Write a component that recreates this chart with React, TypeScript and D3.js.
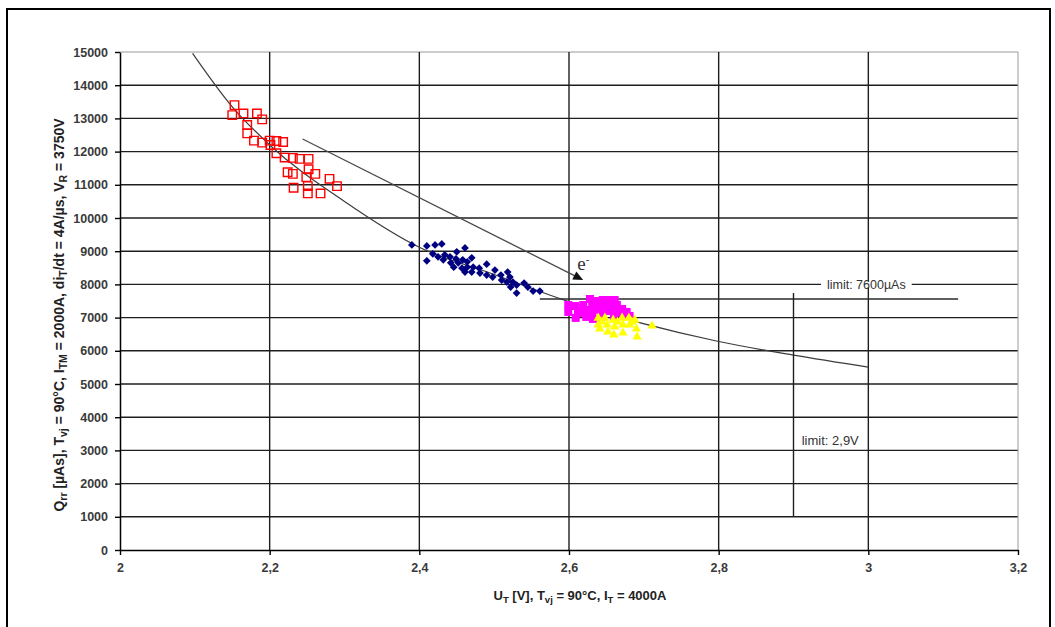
import React, { useEffect, useRef } from "react";
import * as d3 from "d3";

// axis ticks
const xTicks = [2, 2.2, 2.4, 2.6, 2.8, 3, 3.2];
const xTickLabels = ["2", "2,2", "2,4", "2,6", "2,8", "3", "3,2"];
const yTicks = [0, 1000, 2000, 3000, 4000, 5000, 6000, 7000, 8000, 9000, 10000, 11000, 12000, 13000, 14000, 15000];

// measured devices: [U_T (V), Q_rr (µAs)]
const redPoints: [number, number][] = [
  [2.153, 13400], [2.150, 13100], [2.165, 13150], [2.183, 13150], [2.190, 12970],
  [2.170, 12800], [2.170, 12550], [2.179, 12330], [2.190, 12270], [2.200, 12330],
  [2.209, 12320], [2.218, 12290], [2.201, 12200], [2.209, 11950], [2.220, 11820],
  [2.231, 11810], [2.240, 11780], [2.252, 11780], [2.252, 11470], [2.224, 11380],
  [2.231, 11330], [2.261, 11330], [2.249, 11230], [2.280, 11180], [2.290, 10960],
  [2.232, 10910], [2.251, 10960], [2.251, 10740], [2.268, 10740],
];

const bluePoints: [number, number][] = [
  [2.390, 9190], [2.410, 9160], [2.421, 9190], [2.430, 9220], [2.410, 8710],
  [2.418, 8920], [2.425, 8830], [2.434, 8890], [2.441, 8830], [2.450, 8980],
  [2.461, 9100], [2.432, 8740], [2.442, 8650], [2.449, 8770], [2.452, 8650],
  [2.458, 8740], [2.464, 8680], [2.470, 8800], [2.446, 8520], [2.457, 8490],
  [2.464, 8520], [2.472, 8520], [2.461, 8370], [2.470, 8370], [2.480, 8490],
  [2.490, 8610], [2.481, 8340], [2.490, 8280], [2.501, 8430], [2.498, 8220],
  [2.509, 8280], [2.510, 8130], [2.518, 8370], [2.521, 8220], [2.517, 8070],
  [2.525, 8070], [2.522, 7920], [2.530, 7980], [2.540, 8040], [2.530, 7740],
  [2.545, 7920], [2.552, 7800], [2.561, 7800],
];

const magentaPoints: [number, number][] = [
  [2.599, 7380], [2.599, 7170], [2.608, 7350], [2.612, 7200], [2.609, 6990],
  [2.619, 7380], [2.623, 7230], [2.628, 7560], [2.631, 7350], [2.631, 7140],
  [2.632, 6960], [2.639, 7410], [2.641, 7230], [2.643, 7020], [2.649, 7410],
  [2.651, 7200], [2.655, 7530], [2.657, 7290], [2.660, 7050], [2.664, 7380],
  [2.667, 7170], [2.671, 7260], [2.672, 7050], [2.677, 7170], [2.681, 7050],
  [2.623, 7020], [2.615, 7140], [2.636, 7500], [2.645, 7530], [2.661, 7530],
];

const yellowPoints: [number, number][] = [
  [2.639, 6990], [2.648, 6990], [2.659, 6930], [2.671, 6990], [2.680, 6990],
  [2.688, 6930], [2.639, 6780], [2.651, 6780], [2.661, 6720], [2.672, 6780],
  [2.681, 6780], [2.641, 6660], [2.652, 6570], [2.660, 6480], [2.672, 6540],
  [2.691, 6420], [2.711, 6750], [2.644, 6870], [2.665, 6870], [2.684, 6870],
  [2.690, 6660],
];

// trend line
const fitU = [2.097, 2.15, 2.2, 2.3, 2.4, 2.5, 2.6, 2.8, 2.9, 3.0];
const fitQ = [14960, 13350, 12200, 10500, 9120, 8300, 7480, 6280, 5870, 5510];

// "e-" arrow
const arrowFrom: [number, number] = [2.244, 12380];
const arrowTo: [number, number] = [2.619, 8130];

// limits
const limitQ = 7560;
const limitQRange: [number, number] = [2.561, 3.12];
const limitU = 2.9;
const limitURange: [number, number] = [1000, 7740];

const FONT = "'Liberation Sans', Arial, sans-serif";

type Seg = { t: string; sub?: boolean };
const yTitle: Seg[] = [
  { t: "Q" }, { t: "rr", sub: true }, { t: " [µAs], T" }, { t: "vj", sub: true },
  { t: " = 90°C, I" }, { t: "TM", sub: true }, { t: " = 2000A, di" }, { t: "T", sub: true },
  { t: "/dt = 4A/µs, V" }, { t: "R", sub: true }, { t: " = 3750V" },
];
const xTitle: Seg[] = [
  { t: "U" }, { t: "T", sub: true }, { t: " [V], T" }, { t: "vj", sub: true },
  { t: " = 90°C, I" }, { t: "T", sub: true }, { t: " = 4000A" },
];

function writeSegs(text: d3.Selection<SVGTextElement, unknown, null, undefined>, segs: Seg[], subSize: string) {
  let shifted = false;
  segs.forEach((s) => {
    const ts = text.append("tspan").text(s.t);
    if (s.sub && !shifted) {
      ts.attr("dy", 3).attr("font-size", subSize);
      shifted = true;
    } else if (s.sub) {
      ts.attr("font-size", subSize);
    } else if (shifted) {
      ts.attr("dy", -3);
      shifted = false;
    }
  });
}

const App = () => {
  const svgRef = useRef<SVGSVGElement>(null);

  useEffect(() => {
    const width = 1055, height = 627;
    const left = 120, right = 1018, top = 52, bottom = 550;

    const svg = d3.select(svgRef.current!);
    svg.selectAll("*").remove();
    svg.attr("width", width).attr("height", height).style("background", "#fff");

    const x = d3.scaleLinear().domain([2, 3.2]).range([left, right]);
    const y = d3.scaleLinear().domain([0, 15000]).range([bottom, top]);

    // outer frame
    svg.append("rect")
      .attr("x", 7).attr("y", 9).attr("width", 1043).attr("height", 700)
      .attr("fill", "none").attr("stroke", "#000").attr("stroke-width", 2);

    // grid
    svg.append("g").selectAll("line")
      .data(yTicks.slice(1))
      .enter().append("line")
      .attr("x1", left).attr("x2", right)
      .attr("y1", d => y(d)).attr("y2", d => y(d))
      .attr("stroke", d => (d === 15000 ? "#9a9a9a" : "#1e1e1e"))
      .attr("stroke-width", d => (d === 15000 ? 1 : 1.4));

    svg.append("g").selectAll("line")
      .data(xTicks.slice(1))
      .enter().append("line")
      .attr("y1", top).attr("y2", bottom)
      .attr("x1", d => x(d)).attr("x2", d => x(d))
      .attr("stroke", d => (d === 3.2 ? "#9a9a9a" : "#1e1e1e"))
      .attr("stroke-width", d => (d === 3.2 ? 1 : 1.4));

    // axes
    const yAxis = svg.append("g")
      .attr("transform", `translate(${left},0)`)
      .call(d3.axisLeft(y).tickValues(yTicks).tickSize(5).tickSizeOuter(0).tickPadding(7)
        .tickFormat(d => String(d)));
    const xAxis = svg.append("g")
      .attr("transform", `translate(0,${bottom})`)
      .call(d3.axisBottom(x).tickValues(xTicks).tickSize(5).tickSizeOuter(0).tickPadding(8)
        .tickFormat((_d, i) => xTickLabels[i]));
    [yAxis, xAxis].forEach(a => {
      a.select(".domain").attr("stroke", "#000").attr("stroke-width", 1.5);
      a.selectAll(".tick line").attr("stroke", "#000").attr("stroke-width", 1.4);
      a.selectAll(".tick text")
        .attr("fill", "#3a3a3a")
        .style("font-family", FONT)
        .style("font-size", "12.5px")
        .style("font-weight", "bold");
    });

    // trend line
    const fit = fitU.map((u, i) => [u, fitQ[i]] as [number, number]);
    svg.append("path")
      .datum(fit)
      .attr("d", d3.line<[number, number]>().x(d => x(d[0])).y(d => y(d[1])).curve(d3.curveMonotoneX))
      .attr("fill", "none").attr("stroke", "#3c3c3c").attr("stroke-width", 1.2);

    // arrow
    const ax1 = x(arrowFrom[0]), ay1 = y(arrowFrom[1]);
    const ax2 = x(arrowTo[0]), ay2 = y(arrowTo[1]);
    const ang = Math.atan2(ay2 - ay1, ax2 - ax1);
    svg.append("line")
      .attr("x1", ax1).attr("y1", ay1).attr("x2", ax2 - 6 * Math.cos(ang)).attr("y2", ay2 - 6 * Math.sin(ang))
      .attr("stroke", "#4a4a4a").attr("stroke-width", 1.3);
    const hl = 10, hw = 4.5;
    const bx = ax2 - hl * Math.cos(ang), by = ay2 - hl * Math.sin(ang);
    svg.append("path")
      .attr("d", `M${ax2},${ay2}L${bx + hw * Math.sin(ang)},${by - hw * Math.cos(ang)}L${bx - hw * Math.sin(ang)},${by + hw * Math.cos(ang)}Z`)
      .attr("fill", "#111");
    const eLabel = svg.append("text")
      .attr("x", ax2 - 6).attr("y", ay2 - 10)
      .attr("fill", "#333")
      .style("font-family", "'Liberation Serif', 'Times New Roman', serif")
      .style("font-size", "19px");
    eLabel.append("tspan").text("e");
    eLabel.append("tspan").attr("dy", -7).style("font-size", "11px").text("-");

    // limit lines
    svg.append("line")
      .attr("x1", x(limitQRange[0])).attr("x2", x(limitQRange[1]))
      .attr("y1", y(limitQ)).attr("y2", y(limitQ))
      .attr("stroke", "#2a2a2a").attr("stroke-width", 1.5);
    svg.append("line")
      .attr("x1", x(limitU)).attr("x2", x(limitU))
      .attr("y1", y(limitURange[0])).attr("y2", y(limitURange[1]))
      .attr("stroke", "#1e1e1e").attr("stroke-width", 1.4);

    // points
    svg.append("g").selectAll("path")
      .data(redPoints).enter().append("path")
      .attr("d", d3.symbol().type(d3.symbolSquare).size(72)())
      .attr("transform", d => `translate(${x(d[0])},${y(d[1])})`)
      .attr("fill", "none").attr("stroke", "#ff0000").attr("stroke-width", 1.4);

    svg.append("g").selectAll("path")
      .data(bluePoints).enter().append("path")
      .attr("d", d3.symbol().type(d3.symbolSquare).size(30)())
      .attr("transform", d => `translate(${x(d[0])},${y(d[1])}) rotate(45)`)
      .attr("fill", "#000080");

    svg.append("g").selectAll("path")
      .data(magentaPoints).enter().append("path")
      .attr("d", d3.symbol().type(d3.symbolSquare).size(64)())
      .attr("transform", d => `translate(${x(d[0])},${y(d[1])})`)
      .attr("fill", "#ff00ff");

    svg.append("g").selectAll("path")
      .data(yellowPoints).enter().append("path")
      .attr("d", d3.symbol().type(d3.symbolTriangle).size(38)())
      .attr("transform", d => `translate(${x(d[0])},${y(d[1])})`)
      .attr("fill", "#ffff00");

    // limit labels
    const lq = svg.append("g");
    const lqText = lq.append("text")
      .attr("x", x(3.0) - 2).attr("y", y(8000) + 4.5)
      .attr("text-anchor", "middle")
      .attr("fill", "#333")
      .style("font-family", FONT).style("font-size", "12.5px")
      .text("limit: 7600µAs");
    const bb = (lqText.node() as SVGTextElement).getBBox();
    lq.insert("rect", "text")
      .attr("x", bb.x - 6).attr("y", y(8000) - 3).attr("width", bb.width + 12).attr("height", 6)
      .attr("fill", "#fff");

    svg.append("text")
      .attr("x", x(2.911)).attr("y", y(3300) + 4.5)
      .attr("fill", "#333")
      .style("font-family", FONT).style("font-size", "13px")
      .text("limit: 2,9V");

    // axis titles
    const yt = svg.append("text")
      .attr("transform", `translate(64,${315}) rotate(-90)`)
      .attr("text-anchor", "middle")
      .attr("fill", "#222")
      .style("font-family", FONT).style("font-size", "14px").style("font-weight", "bold");
    writeSegs(yt, yTitle, "10.5px");

    const xt = svg.append("text")
      .attr("x", 580).attr("y", 600)
      .attr("text-anchor", "middle")
      .attr("fill", "#222")
      .style("font-family", FONT).style("font-size", "13px").style("font-weight", "bold");
    writeSegs(xt, xTitle, "9.5px");
  }, []);

  return (
    <svg ref={svgRef} style={{ position: "absolute", left: 0, top: 0, display: "block" }}></svg>
  );
};

export default App;
